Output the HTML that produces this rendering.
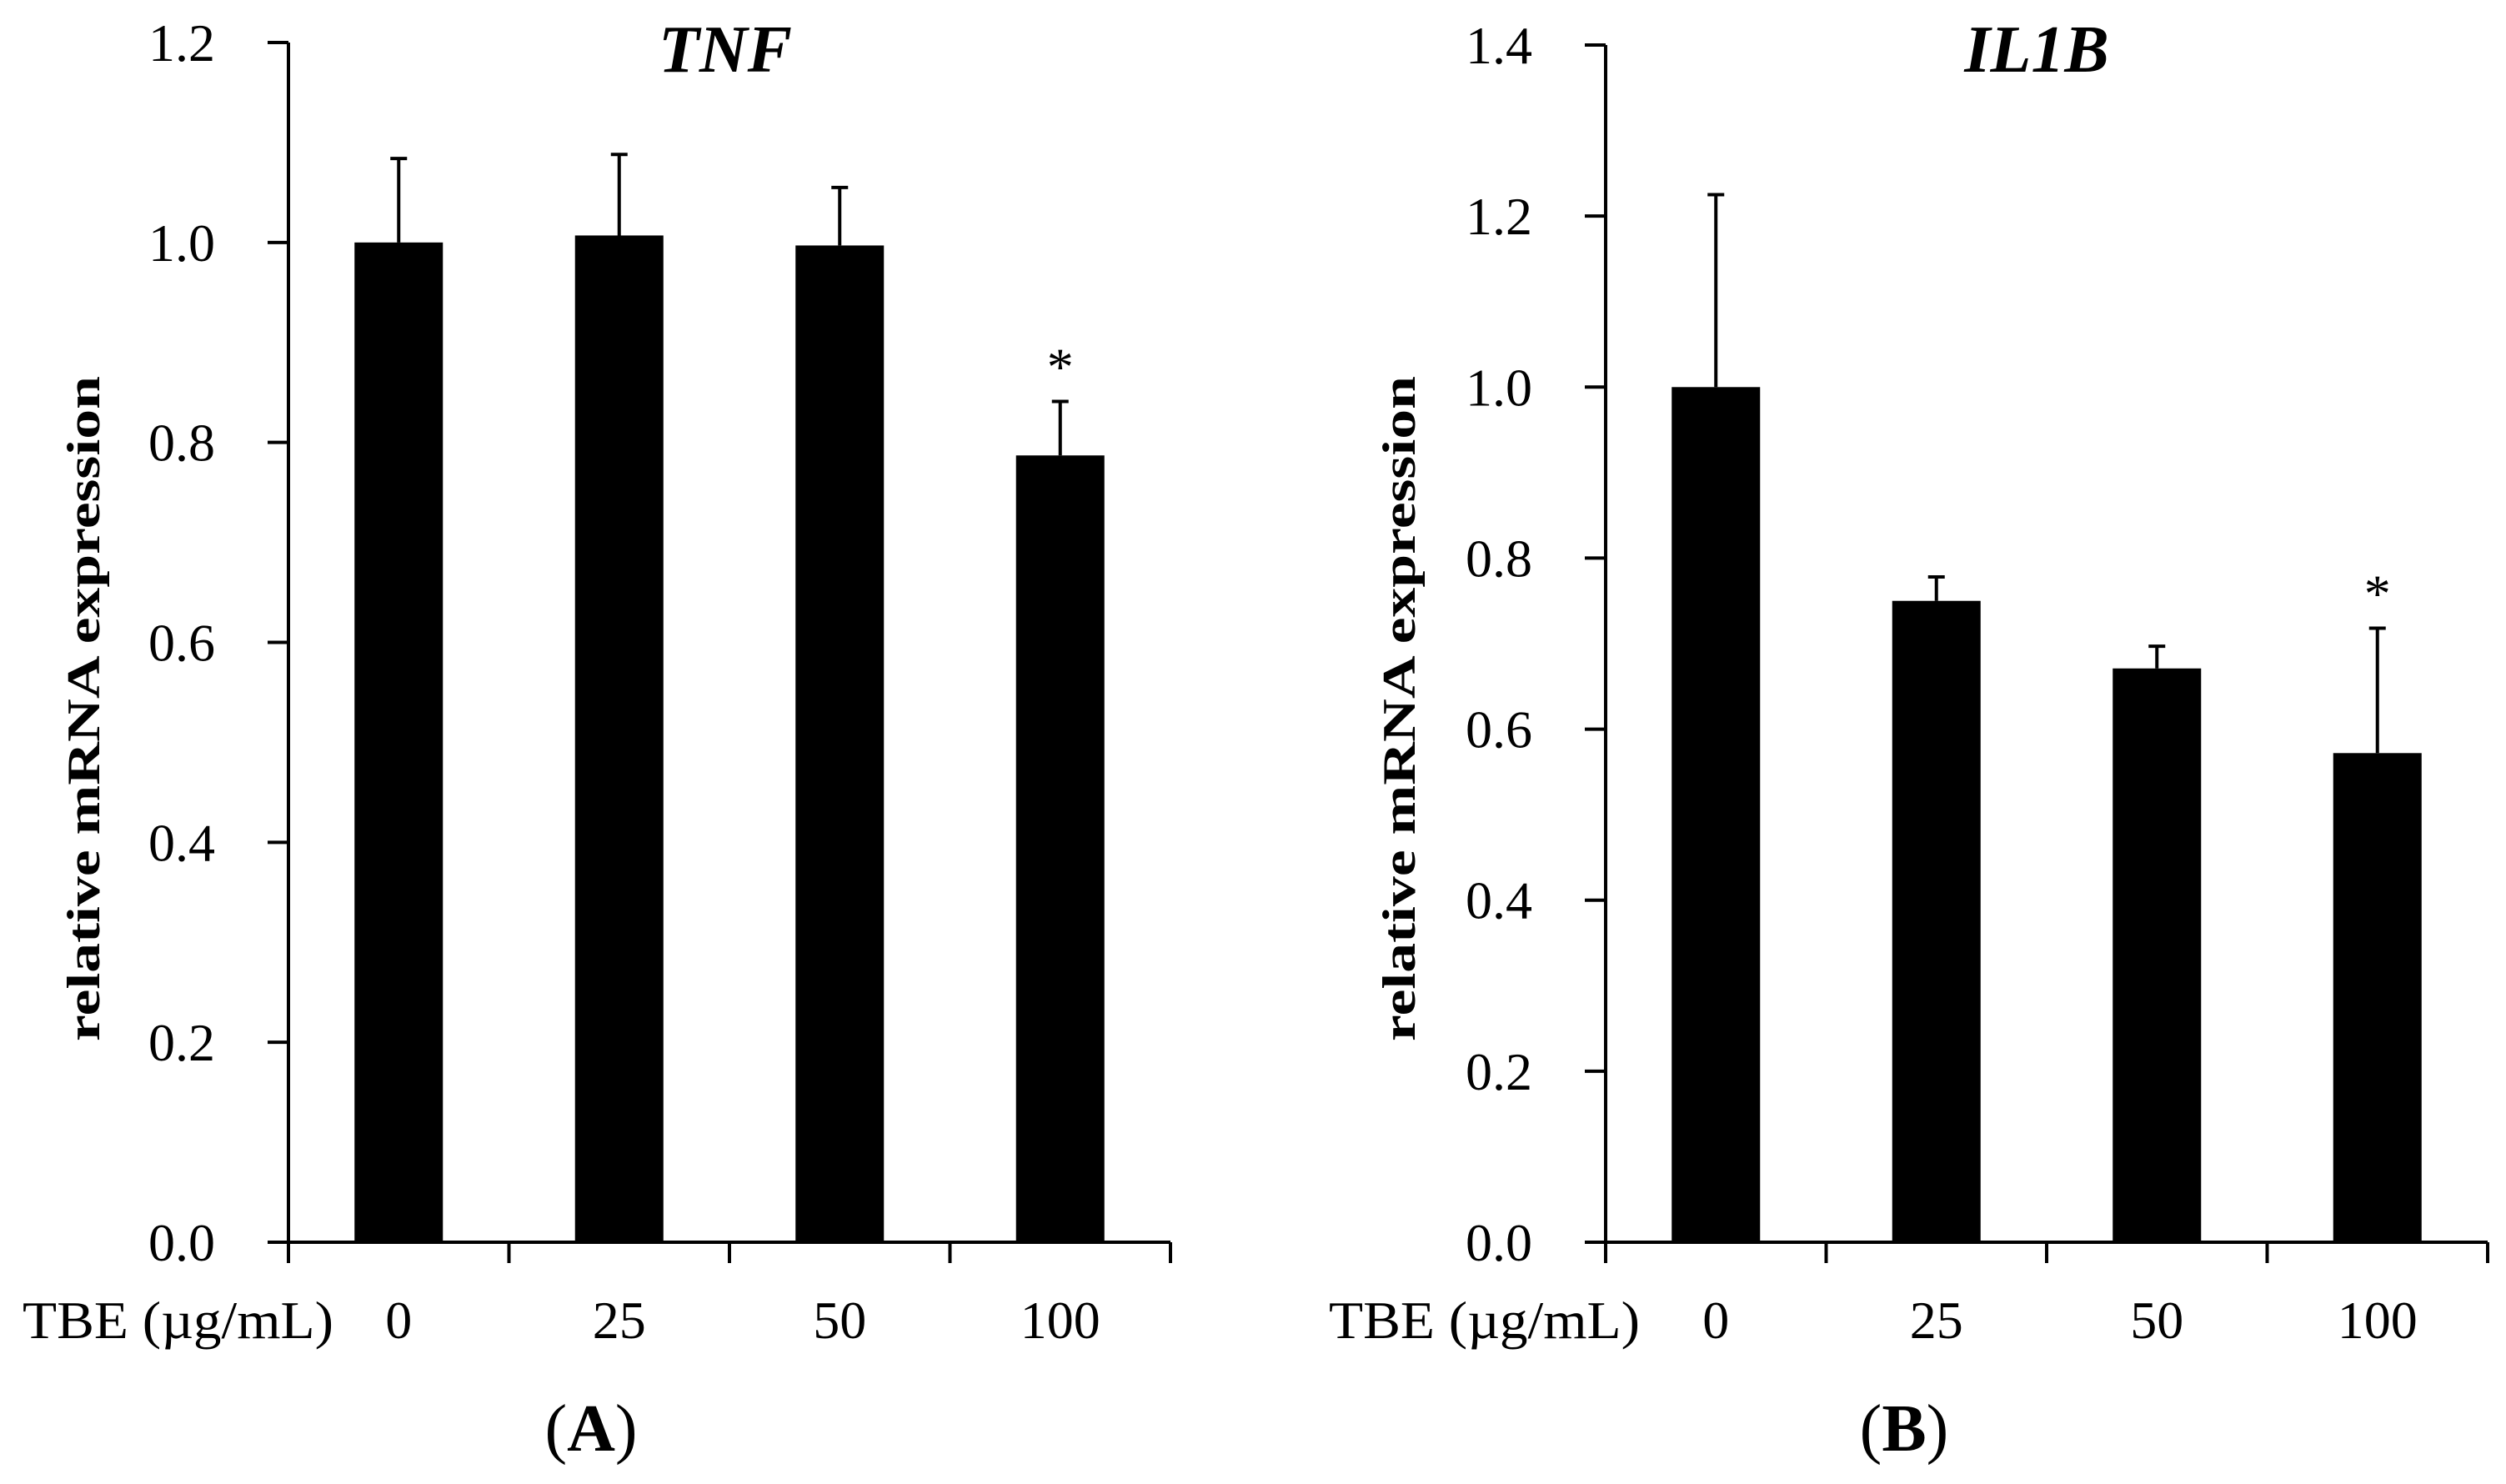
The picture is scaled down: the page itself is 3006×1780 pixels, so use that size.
<!DOCTYPE html>
<html><head><meta charset="utf-8"><style>
html,body{margin:0;padding:0;background:#fff}
svg{display:block}
text{font-family:"Liberation Serif",serif;fill:#000}
</style></head><body>
<svg id="fig" width="3006" height="1780" viewBox="0 0 3006 1780"></svg>
<script>
const categories = ["0","25","50","100"];
const tnfValues = [1.0, 1.007, 0.997, 0.787];
const tnfErrTop = [1.084, 1.088, 1.055, 0.841];
const tnfSig = [false, false, false, true];
const tnfTicks = ["0.0","0.2","0.4","0.6","0.8","1.0","1.2"];
const il1bValues = [1.0, 0.750, 0.671, 0.572];
const il1bErrTop = [1.225, 0.778, 0.697, 0.718];
const il1bSig = [false, false, false, true];
const il1bTicks = ["0.0","0.2","0.4","0.6","0.8","1.0","1.2","1.4"];

const NS = "http://www.w3.org/2000/svg";
const svg = document.getElementById("fig");
function mk(tag, attrs, parent, txt) {
  const e = document.createElementNS(NS, tag);
  for (const k in attrs) e.setAttribute(k, attrs[k]);
  if (txt !== undefined) e.textContent = txt;
  (parent || svg).appendChild(e);
  return e;
}

function panel(cfg) {
  const g = mk("g", {});
  
  
  const y0 = 1490, yTop = cfg.yTop, ymax = cfg.ymax;
  const ys = v => y0 - (v / ymax) * (y0 - yTop);
  const x0 = cfg.axisX, x1 = cfg.axisEnd;
  const cw = (x1 - x0) / categories.length;
  const xc = i => x0 + cw * (i + 0.5);
  const ya = mk("line", {x1:x0, y1:yTop, x2:x0, y2:y0, stroke:"#000", "stroke-width":4}, g);
  
  
  cfg.ticks.forEach((t, i) => {
    const v = parseFloat(t);
    const y = ys(v);
    const tk = mk("line", {x1:x0-25, y1:y, x2:x0, y2:y, stroke:"#000", "stroke-width":4}, g);
    
    
    const tl = mk("text", {x:x0-88, y:y+22, "text-anchor":"end", "font-size":64}, g, t);
    
    
  });
  const xa = mk("line", {x1:x0, y1:y0, x2:x1, y2:y0, stroke:"#000", "stroke-width":4}, g);
  
  
  for (let i = 0; i <= categories.length; i++) {
    const x = x0 + cw * i;
    const tk = mk("line", {x1:x, y1:y0, x2:x, y2:y0+25, stroke:"#000", "stroke-width":4}, g);
    
    
  }
  categories.forEach((c, i) => {
    const x = xc(i);
    const bw = 106;
    const yv = ys(cfg.values[i]);
    const ye = ys(cfg.err[i]);
    const el = mk("line", {x1:x, y1:ye, x2:x, y2:yv, stroke:"#000", "stroke-width":4}, g);
    
    
    const cap = mk("line", {x1:x-10, y1:ye, x2:x+10, y2:ye, stroke:"#000", "stroke-width":4}, g);
    
    
    const r = mk("rect", {x:x-bw/2, y:yv, width:bw, height:y0-yv, fill:"#000"}, g);
    
    
    const lb = mk("text", {x:x, y:1605, "text-anchor":"middle", "font-size":64}, g, c);
    
    
    if (cfg.sig[i]) {
      const s = mk("text", {x:x, y:ye-20, "text-anchor":"middle", "font-size":64}, g, "*");
      
      
    }
  });
  const xl = mk("text", {x:cfg.xLabelX, y:1605, "font-size":64, textLength:373, lengthAdjust:"spacingAndGlyphs"}, g, "TBE (µg/mL)");
  
  
  const yt = mk("text", {x:0, y:0, "text-anchor":"middle", "font-size":56, "font-weight":"bold", textLength:798, lengthAdjust:"spacingAndGlyphs", transform:`translate(${cfg.yTitleX},850) rotate(-90)`}, g, "relative mRNA expression");
  
  
  const tt = mk("text", {x:cfg.titleX, y:86, "text-anchor":"middle", "font-size":80, "font-weight":"bold", "font-style":"italic"}, g, cfg.title);
  
  
  const pl = mk("text", {x:cfg.panelX, y:1740, "text-anchor":"middle", "font-size":80}, g);
  
  
  mk("tspan", {}, pl, "(");
  mk("tspan", {"font-weight":"bold"}, pl, cfg.panel);
  mk("tspan", {}, pl, ")");
}

panel({name:"panel-a-tnf", axisX:346, axisEnd:1404, yTop:51, ymax:1.2, ticks:tnfTicks,
  values:tnfValues, err:tnfErrTop, sig:tnfSig, xLabelX:27, yTitleX:119, titleX:870, panelX:709, title:"TNF", panel:"A"});
panel({name:"panel-b-il1b", axisX:1926, axisEnd:2984, yTop:54, ymax:1.4, ticks:il1bTicks,
  values:il1bValues, err:il1bErrTop, sig:il1bSig, xLabelX:1594, yTitleX:1697, titleX:2443, panelX:2284, title:"IL1B", panel:"B"});
</script>
</body></html>
